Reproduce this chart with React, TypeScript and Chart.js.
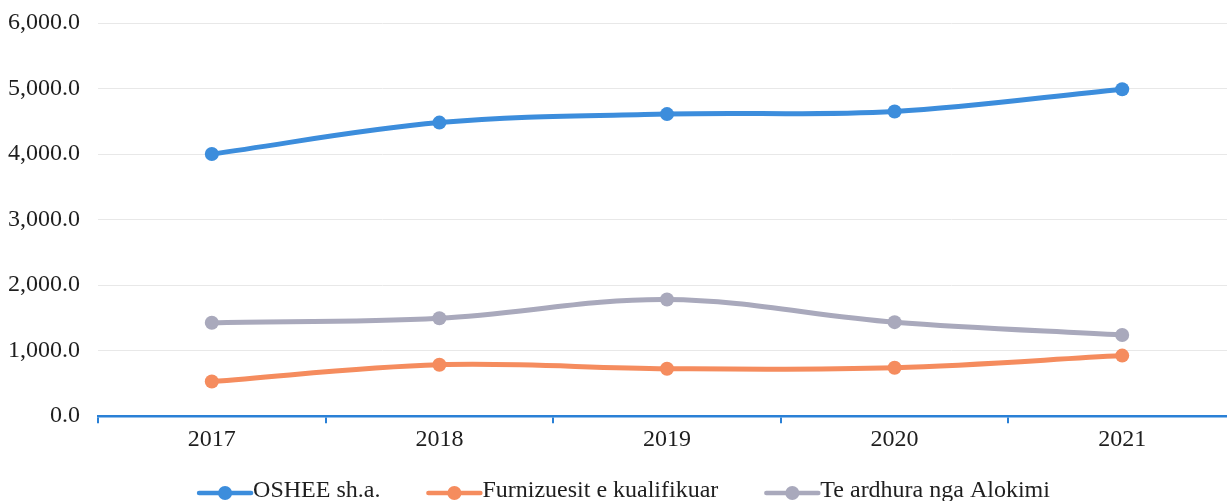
import React, { useEffect, useRef } from "react";
import { Chart, registerables } from "chart.js";

Chart.register(...registerables);

const categories = ["2017", "2018", "2019", "2020", "2021"];
const seriesNames = ["OSHEE sh.a.", "Furnizuesit e kualifikuar", "Te ardhura nga Alokimi"];
const oshee = [4000, 4480, 4610, 4650, 4990];
const furnizuesit = [530, 785, 725, 740, 925];
const alokimi = [1425, 1495, 1780, 1435, 1240];
const colors = ["#3C8DDC", "#F58C5E", "#A9A9BC"];
const yTicks = [0, 1000, 2000, 3000, 4000, 5000, 6000];

const FONT = "'Liberation Serif', 'DejaVu Serif', serif";
const FONT_SIZE = 24;
const PAGE_W = 1227;
const PAGE_H = 501;
const CANVAS_W = 1243;

const bottomLegend = {
  id: "bottomLegend",
  afterDraw(chart: any) {
    const ctx = chart.ctx as CanvasRenderingContext2D;
    const markerW = 56;
    const gap = 46;
    const cy = 491;
    ctx.save();
    ctx.font = `${FONT_SIZE}px ${FONT}`;
    ctx.textBaseline = "middle";
    ctx.textAlign = "left";
    const items = chart.data.datasets.map((ds: any) => ({
      text: ds.label as string,
      color: ds.borderColor as string,
      w: ctx.measureText(ds.label).width,
    }));
    const total =
      items.reduce((s: number, it: any) => s + markerW + it.w, 0) + gap * (items.length - 1);
    let x = PAGE_W / 2 + 10 - total / 2;
    items.forEach((it: any) => {
      ctx.strokeStyle = it.color;
      ctx.lineWidth = 4.5;
      ctx.lineCap = "round";
      ctx.beginPath();
      ctx.moveTo(x + 2, cy + 2);
      ctx.lineTo(x + markerW - 2, cy + 2);
      ctx.stroke();
      ctx.fillStyle = it.color;
      ctx.beginPath();
      ctx.arc(x + markerW / 2, cy + 2, 7, 0, Math.PI * 2);
      ctx.fill();
      ctx.fillStyle = "#1e1e1e";
      ctx.fillText(it.text, x + markerW, cy);
      x += markerW + it.w + gap;
    });
    ctx.restore();
  },
};

export default function App() {
  const ref = useRef<HTMLCanvasElement>(null);
  useEffect(() => {
    if (!ref.current) return;
    const data = [oshee, furnizuesit, alokimi];
    const chart = new Chart(ref.current, {
      type: "line",
      data: {
        labels: categories,
        datasets: seriesNames.map((name, i) => ({
          label: name,
          data: data[i],
          borderColor: colors[i],
          backgroundColor: colors[i],
          borderWidth: 5,
          pointRadius: 7,
          pointBorderWidth: 0,
          pointBackgroundColor: colors[i],
          tension: 0.35,
          fill: false,
        })),
      },
      options: {
        animation: false,
        responsive: false,
        layout: { padding: { top: 23, right: 0, left: 0, bottom: 45 } },
        plugins: {
          tooltip: { enabled: false },
          legend: { display: false },
        },
        scales: {
          x: {
            offset: true,
            grid: {
              offset: true,
              drawOnChartArea: false,
              drawTicks: true,
              tickLength: 7,
              color: "#2A80D6",
              lineWidth: 2,
            },
            border: { display: true, color: "#2A80D6", width: 2.5 },
            ticks: { font: { family: FONT, size: FONT_SIZE }, color: "#1e1e1e", padding: 2 },
          },
          y: {
            min: 0,
            max: 6000,
            afterFit: (axis: any) => {
              axis.width = 98;
              axis.paddingTop = 0;
              axis.paddingBottom = 0;
            },
            afterBuildTicks: (axis: any) => {
              axis.ticks = yTicks.map((v) => ({ value: v }));
            },
            grid: { color: "#E8E8E8", lineWidth: 1, drawTicks: false },
            border: { display: false },
            ticks: {
              font: { family: FONT, size: FONT_SIZE },
              color: "#1e1e1e",
              padding: 18,
              callback: (v: any) =>
                Number(v).toLocaleString("en-US", { minimumFractionDigits: 1, maximumFractionDigits: 1 }),
            },
          },
        },
      },
      plugins: [bottomLegend],
    });
    return () => chart.destroy();
  }, []);
  return (
    <div
      style={{
        position: "fixed",
        left: 0,
        top: 0,
        width: PAGE_W,
        height: PAGE_H,
        overflow: "hidden",
        background: "#fff",
      }}
    >
      <canvas ref={ref} width={CANVAS_W} height={PAGE_H} style={{ width: CANVAS_W, height: PAGE_H }} />
    </div>
  );
}
